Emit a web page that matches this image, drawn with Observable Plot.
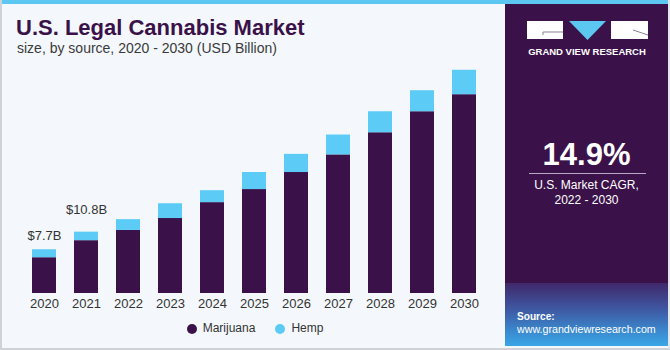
<!DOCTYPE html>
<html>
<head>
<meta charset="utf-8">
<script src="https://cdn.jsdelivr.net/npm/d3@7"></script>
<script src="https://cdn.jsdelivr.net/npm/@observablehq/plot@0.6"></script>
<style>
  body { margin: 0; background: #ffffff; }
  #frame { position: relative; width: 670px; height: 350px; overflow: hidden;
    background: #f4f8fc; font-family: "Liberation Sans", Arial, sans-serif; box-sizing: border-box;
    border-left: 2px solid #cfd3d7; border-bottom: 2px solid #cfd3d7; border-right: 2px solid #e3e7ea; }
  #stripe { position: absolute; left: -2px; top: 0; width: 672px; height: 4px; background: #5cc8f2; }
  .abs { position: absolute; }
  #title { left: 14px; top: 17.4px; line-height: 1; font-size: 22px; font-weight: bold; color: #3a1249; white-space: nowrap; }
  #subtitle { left: 15px; top: 40.8px; line-height: 1; font-size: 14px; color: #3a3a3a; white-space: nowrap; }
  #chart { left: -2px; top: 0; }
  #legend { left: 184.7px; top: 321px; display: flex; align-items: center; gap: 20px; font-size: 12px; color: #333; line-height: 15px; }
  #legend .item { display: flex; align-items: center; gap: 6px; }
  #legend .dot { width: 10px; height: 10px; border-radius: 50%; display: inline-block; }
  #panel { left: 503px; top: 4px; width: 163px; height: 279px; background: #3a1249; }
  #source { left: 503px; top: 283px; width: 163px; height: 63px;
    background: linear-gradient(180deg, #40286a 0%, #3e56a0 40%, #3b8bd0 78%, #3aa6e6 100%); }
  .white { color: #ffffff; text-align: center; width: 163px; white-space: nowrap; }
</style>
</head>
<body>
<div id="frame">
  <div id="stripe"></div>
  <div id="title" class="abs">U.S. Legal Cannabis Market</div>
  <div id="subtitle" class="abs">size, by source, 2020 - 2030 (USD Billion)</div>
  <div id="chart" class="abs"></div>
  <div id="legend" class="abs"></div>
  <div id="panel" class="abs">
    <svg id="logo" width="163" height="60" style="position:absolute;left:0;top:0">
      <rect x="22" y="17" width="36" height="18" fill="#ffffff"/>
      <polyline points="38,28 58,28" stroke="#8a8296" stroke-width="1" fill="none"/>
      <polyline points="38,28 38,31" stroke="#8a8296" stroke-width="1" fill="none"/>
      <polygon points="64,17 101,17 82.5,36" fill="#5cc8f2"/>
      <rect x="106" y="17" width="37" height="18" fill="#ffffff"/>
      <polyline points="128,26 143,31" stroke="#8a8296" stroke-width="1" fill="none"/>
      <text x="82" y="50.5" text-anchor="middle" fill="#ffffff" font-size="9.5" font-weight="bold" font-family="Liberation Sans, Arial, sans-serif">GRAND VIEW RESEARCH</text>
    </svg>
    <div class="abs white" style="top:134.8px;left:0;font-size:31px;line-height:1;font-weight:bold;">14.9%</div>
    <div class="abs" style="top:169px;left:24px;width:117px;height:1px;background:#b7a8c6;"></div>
    <div class="abs white" style="top:173.8px;left:0;font-size:12px;line-height:14.7px;">U.S. Market CAGR,<br>2022 - 2030</div>
  </div>
  <div id="source" class="abs">
    <div class="abs" style="left:12px;top:28.2px;font-size:11px;line-height:1;font-weight:bold;color:#fff;transform:scaleX(0.92);transform-origin:left;">Source:</div>
    <div class="abs" style="left:12px;top:41px;font-size:11px;line-height:1;color:#fff;white-space:nowrap;transform:scaleX(0.97);transform-origin:left;">www.grandviewresearch.com</div>
  </div>
</div>
<script>
const years = [2020, 2021, 2022, 2023, 2024, 2025, 2026, 2027, 2028, 2029, 2030];
const marijuana = [6.3, 9.3, 11.1, 13.2, 16.0, 18.3, 21.3, 24.4, 28.3, 32.0, 35.0];
const hemp = [1.4, 1.5, 1.9, 2.6, 2.1, 3.0, 3.2, 3.5, 3.7, 3.7, 4.3];
const valueLabels = ["$7.7B", "$10.8B", "", "", "", "", "", "", "", "", ""];
const seriesNames = ["Marijuana", "Hemp"];
const seriesColors = ["#3a1249", "#5ccbf6"];

const long = [];
years.forEach((yr, i) => {
  long.push({year: yr, source: seriesNames[0], value: marijuana[i]});
  long.push({year: yr, source: seriesNames[1], value: hemp[i]});
});
const totals = years.map((yr, i) => ({year: yr, total: marijuana[i] + hemp[i], label: valueLabels[i]}));
const pxPerUnit = 5.68;
const base = 293;

const chart = Plot.plot({
  width: 505,
  height: 320,
  marginLeft: 0, marginRight: 0, marginTop: 0, marginBottom: 27,
  style: {background: "transparent", fontFamily: "Liberation Sans, Arial, sans-serif", fontSize: "13px", color: "#333"},
  x: {type: "band", domain: years, range: [23, 485], paddingInner: 0.4286, paddingOuter: 0.2143,
      tickSize: 0, tickPadding: 5, label: null, tickFormat: d => String(d)},
  y: {domain: [0, 45], range: [base, base - 45 * pxPerUnit], axis: null},
  color: {domain: seriesNames, range: seriesColors},
  marks: [
    Plot.barY(long, {x: "year", y: "value", fill: "source", order: seriesNames}),
    Plot.text(totals.filter((d, i) => i === 0), {x: "year", y: "total", text: "label", dy: -14, fontSize: 13, fill: "#333"}),
    Plot.text(totals.filter((d, i) => i === 1), {x: "year", y: "total", text: "label", dy: -22, fontSize: 13, fill: "#333"})
  ]
});
document.getElementById("chart").appendChild(chart);

const legend = document.getElementById("legend");
seriesNames.forEach((name, i) => {
  const item = document.createElement("span");
  item.className = "item";
  const dot = document.createElement("span");
  dot.className = "dot";
  dot.style.background = seriesColors[i];
  const txt = document.createElement("span");
  txt.textContent = name;
  item.appendChild(dot);
  item.appendChild(txt);
  legend.appendChild(item);
});
</script>
</body>
</html>
